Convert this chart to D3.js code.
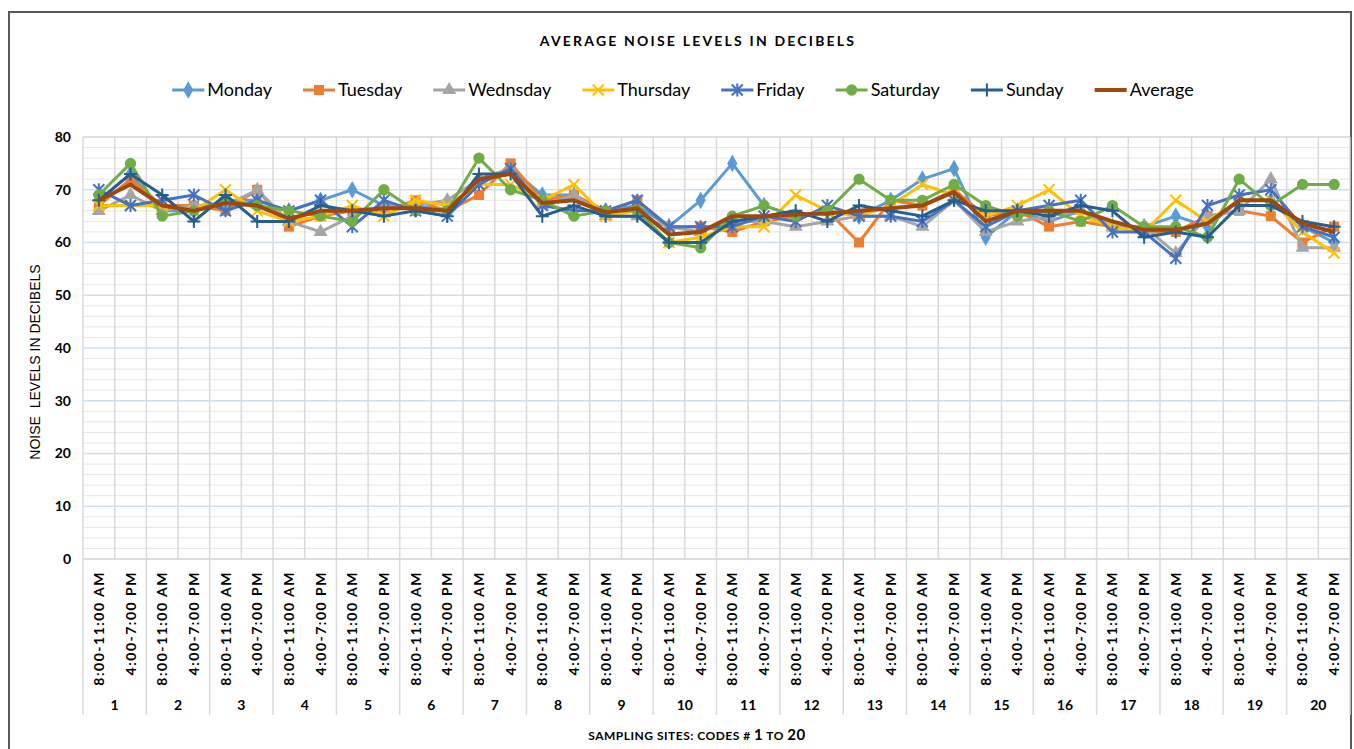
<!DOCTYPE html>
<html>
<head>
<meta charset="utf-8">
<script src="https://cdn.jsdelivr.net/npm/d3@7/dist/d3.min.js"></script>
<style>
  body { margin: 0; background: #fff; }
  svg { display: block; }
  text { font-family: Lato, "Liberation Sans", sans-serif; fill: #000; }
</style>
</head>
<body>
<div id="chart"></div>
<script>
// sampling sites and time slots (two readings per site)
var sites = ["1","2","3","4","5","6","7","8","9","10","11","12","13","14","15","16","17","18","19","20"];
var times = ["8:00-11:00 AM", "4:00-7:00 PM"];
var yTicks = [0, 10, 20, 30, 40, 50, 60, 70, 80];

// noise levels (dB), 40 values each: site1 AM, site1 PM, site2 AM ...
var monday    = [68,73,66,66,68,68,66,68,70,67, 67,66,72,74,69,69,66,67,63,68, 75,67,65,66,65,68,72,74,61,66, 64,66,63,63,65,63,68,68,63,60];
var tuesday   = [67,72,67,67,66,70,63,65,66,66, 68,66,69,75,68,69,66,68,63,63, 62,64,65,66,60,68,67,70,65,66, 63,64,63,62,62,65,66,65,60,63];
var wednesday = [66,69,66,67,67,70,64,62,65,67, 67,68,72,74,67,69,65,65,63,62, 64,64,63,64,65,65,63,68,62,64, 65,66,63,63,58,65,66,72,59,59];
var thursday  = [67,67,67,66,70,66,64,65,67,65, 68,67,71,71,68,71,65,66,60,61, 63,63,69,66,65,67,71,69,65,67, 70,65,63,62,68,64,68,68,62,58];
var friday    = [70,67,68,69,66,68,66,68,63,68, 66,65,71,74,67,66,66,68,63,63, 63,65,64,67,65,65,64,68,63,66, 67,68,62,62,57,67,69,70,63,61];
var saturday  = [69,75,65,66,68,67,66,65,64,70, 66,66,76,70,68,65,66,66,60,59, 65,67,65,66,72,68,68,71,67,65, 66,64,67,63,63,61,72,67,71,71];
var sunday    = [68,73,69,64,69,64,64,67,66,65, 66,65,73,73,65,67,65,65,60,60, 64,65,66,64,67,66,65,68,66,66, 65,67,66,61,62,61,67,67,64,63];
var average   = [68,71,67,66,67.5,67,64.5,66,66,66.5, 66.5,66,72,73,67.5,68,65.7,66.5,61.5,62, 65,65,65.3,65.5,66,66.5,67,69.6,64,66, 66,66,64,62.4,62.4,63.6,68,68,63.6,62];

var series = [
  {name: "Monday",   values: monday,    color: "#5B9BD5", marker: "diamond"},
  {name: "Tuesday",  values: tuesday,   color: "#ED7D31", marker: "square"},
  {name: "Wednsday", values: wednesday, color: "#A5A5A5", marker: "triangle"},
  {name: "Thursday", values: thursday,  color: "#FFC000", marker: "x"},
  {name: "Friday",   values: friday,    color: "#4472C4", marker: "star"},
  {name: "Saturday", values: saturday,  color: "#70AD47", marker: "circle"},
  {name: "Sunday",   values: sunday,    color: "#255E91", marker: "plus"},
  {name: "Average",  values: average,   color: "#9E480E", marker: "none"}
];

var W = 1354, H = 749;
var plotLeft = 83, plotRight = 1350, plotTop = 137, plotBottom = 559;

var cats = [];
sites.forEach(function(s) { times.forEach(function(t) { cats.push({site: s, time: t}); }); });

var svg = d3.select("#chart").append("svg").attr("width", W).attr("height", H);

var x = d3.scaleBand().domain(d3.range(cats.length)).range([plotLeft, plotRight]).padding(0);
var xs = d3.scaleBand().domain(sites).range([plotLeft, plotRight]).padding(0);
var y = d3.scaleLinear().domain([0, 80]).range([plotBottom, plotTop]);

function cx(i) { return x(i) + x.bandwidth() / 2; }

// chart frame
svg.append("rect").attr("x", 9).attr("y", 12).attr("width", 1342).attr("height", 760)
  .attr("fill", "none").attr("stroke", "#595959").attr("stroke-width", 2);

// minor gridlines
var grid = svg.append("g");
grid.selectAll("line.minor").data(d3.range(0, 81, 2).filter(function(v) { return v % 10 != 0; }))
  .enter().append("line").attr("class", "minor")
  .attr("x1", plotLeft).attr("x2", plotRight)
  .attr("y1", function(d) { return y(d); }).attr("y2", function(d) { return y(d); })
  .attr("stroke", "#e6e6e6").attr("stroke-width", 1);

// major gridlines
grid.selectAll("line.major").data(yTicks.filter(function(v) { return v > 0 && v < 80; }))
  .enter().append("line").attr("class", "major")
  .attr("x1", plotLeft).attr("x2", plotRight)
  .attr("y1", function(d) { return y(d); }).attr("y2", function(d) { return y(d); })
  .attr("stroke", "#cddff0").attr("stroke-width", 1.5);

// vertical gridlines at category boundaries
grid.selectAll("line.v").data(d3.range(cats.length + 1))
  .enter().append("line").attr("class", "v")
  .attr("x1", function(d) { return plotLeft + d * x.step(); })
  .attr("x2", function(d) { return plotLeft + d * x.step(); })
  .attr("y1", plotTop).attr("y2", plotBottom)
  .attr("stroke", "#dadada").attr("stroke-width", 1.5);

// top and bottom edges
grid.append("line").attr("x1", plotLeft).attr("x2", plotRight).attr("y1", plotTop).attr("y2", plotTop)
  .attr("stroke", "#d4d4d4").attr("stroke-width", 1.5);
grid.append("line").attr("x1", plotLeft).attr("x2", plotRight).attr("y1", plotBottom).attr("y2", plotBottom)
  .attr("stroke", "#d0d0d0").attr("stroke-width", 1.5);

// site separators below the axis
grid.selectAll("line.sep").data(d3.range(sites.length + 1))
  .enter().append("line").attr("class", "sep")
  .attr("x1", function(d) { return plotLeft + d * xs.step(); })
  .attr("x2", function(d) { return plotLeft + d * xs.step(); })
  .attr("y1", plotBottom).attr("y2", 715)
  .attr("stroke", "#dadada").attr("stroke-width", 1.5);

// y axis
var yAxis = svg.append("g").attr("transform", "translate(" + (plotLeft - 12) + ",0)")
  .call(d3.axisLeft(y).tickValues(yTicks).tickSize(0).tickPadding(0));
yAxis.select(".domain").remove();
yAxis.selectAll("text").attr("font-size", 14).attr("font-weight", "bold")
  .style("font-family", "Lato, sans-serif");

svg.append("text")
  .attr("transform", "translate(40,362) rotate(-90)")
  .attr("text-anchor", "middle").attr("font-size", 14)
  .style("font-family", "'Liberation Sans', Arial, sans-serif")
  .attr("xml:space", "preserve")
  .text("NOISE  LEVELS IN DECIBELS");

// x labels: time slots (rotated) and site numbers
svg.append("g").selectAll("text").data(cats).enter().append("text")
  .attr("transform", function(d, i) { return "translate(" + (cx(i) + 5) + "," + (plotBottom + 12) + ") rotate(-90)"; })
  .attr("text-anchor", "end").attr("font-size", 14).attr("font-weight", "bold")
  .attr("letter-spacing", 1.5)
  .text(function(d) { return d.time; });

svg.append("g").selectAll("text").data(sites).enter().append("text")
  .attr("x", function(d) { return xs(d) + xs.bandwidth() / 2; })
  .attr("y", 710).attr("text-anchor", "middle")
  .attr("font-size", 14).attr("font-weight", "bold")
  .text(function(d) { return d; });

var xt = svg.append("text").attr("x", 697).attr("y", 740).attr("text-anchor", "middle")
  .attr("font-weight", "bold").attr("font-size", 12).attr("letter-spacing", 0.5);
xt.append("tspan").text("SAMPLING SITES: CODES # ");
xt.append("tspan").attr("font-size", 15).text("1");
xt.append("tspan").text(" TO ");
xt.append("tspan").attr("font-size", 15).text("20");

// title
svg.append("text").attr("x", 698).attr("y", 46).attr("text-anchor", "middle")
  .attr("font-size", 14).attr("font-weight", "bold").attr("letter-spacing", 2.2)
  .text("AVERAGE NOISE LEVELS IN DECIBELS");

// markers
function drawMarker(g, type, color) {
  if (type == "none") return g;
  var sym = {diamond: [d3.symbolDiamond, 90], square: [d3.symbolSquare, 100],
             triangle: [d3.symbolTriangle, 85], circle: [d3.symbolCircle, 100]};
  if (sym[type]) {
    g.append("path").attr("d", d3.symbol(sym[type][0], sym[type][1])).attr("fill", color);
  } else {
    var d = {x: "M-5.5,-5.5L5.5,5.5M-5.5,5.5L5.5,-5.5",
             star: "M-5.5,-5.5L5.5,5.5M-5.5,5.5L5.5,-5.5M0,-6.5L0,6.5",
             plus: "M-6.5,0L6.5,0M0,-6.5L0,6.5"}[type];
    g.append("path").attr("d", d).attr("fill", "none").attr("stroke", color).attr("stroke-width", 2);
  }
  return g;
}

var line = d3.line().x(function(d, i) { return cx(i); }).y(function(d) { return y(d); });

series.forEach(function(s) {
  var g = svg.append("g");
  g.append("path").datum(s.values).attr("d", line)
    .attr("fill", "none").attr("stroke", s.color)
    .attr("stroke-width", s.name == "Average" ? 4 : 3)
    .attr("stroke-linejoin", "round");
  s.values.forEach(function(v, i) {
    drawMarker(g.append("g").attr("transform", "translate(" + cx(i) + "," + y(v) + ")"), s.marker, s.color);
  });
});

// legend
var legend = svg.append("g");
var lx = 0;
series.forEach(function(s) {
  var it = legend.append("g").attr("transform", "translate(" + lx + ",0)");
  it.append("line").attr("x1", 0).attr("x2", 32).attr("y1", 0).attr("y2", 0)
    .attr("stroke", s.color).attr("stroke-width", s.name == "Average" ? 4 : 3);
  drawMarker(it.append("g").attr("transform", "translate(16,0)"), s.marker, s.color);
  var t = it.append("text").attr("x", 35).attr("y", 6).attr("font-size", 18).text(s.name);
  lx += 35 + t.node().getComputedTextLength() + 31;
});
legend.attr("transform", "translate(" + (683 - (lx - 31) / 2) + ",90)");
</script>
</body>
</html>
